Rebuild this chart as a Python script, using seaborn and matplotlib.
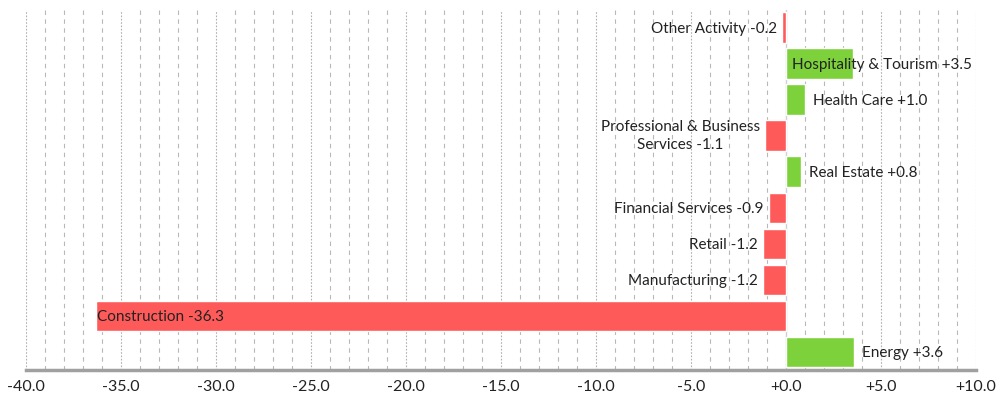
import matplotlib
matplotlib.use('Agg')
import matplotlib.pyplot as plt
import seaborn as sns
import numpy as np
from matplotlib.ticker import MultipleLocator, FuncFormatter

# data, top to bottom
sectors = ['Other Activity', 'Hospitality & Tourism', 'Health Care',
           'Professional & Business\nServices', 'Real Estate', 'Financial Services',
           'Retail', 'Manufacturing', 'Construction', 'Energy']
change = [-0.2, 3.5, 1.0, -1.1, 0.8, -0.9, -1.2, -1.2, -36.3, 3.6]

red = '#ff5a5a'
green = '#7dd13b'
bar_colors = [green if v > 0 else red for v in change]

sns.set_style('white')
plt.rcParams['font.family'] = ['Lato', 'DejaVu Sans']

fig = plt.figure(figsize=(9.98, 4), dpi=100)
ax = fig.add_axes([0.026, 0.075, 0.952, 0.901])

sns.barplot(x=change, y=sectors, hue=sectors, palette=bar_colors,
            orient='h', width=0.85, legend=False, saturation=1, ax=ax)

ax.set_xlim(-40, 10)
ax.set_ylim(9.5, -0.5)

# grid: dashed every 1, dotted every 5
ax.xaxis.set_major_locator(MultipleLocator(5))
ax.xaxis.set_minor_locator(MultipleLocator(1))
ax.xaxis.set_major_formatter(FuncFormatter(lambda v, p: '{:+.1f}'.format(v) if v != 0 else '+0.0'))
ax.grid(False)
for v in np.arange(-40, 11, 1):
    if v == 0:
        continue
    if v % 5 == 0:
        ax.axvline(v, color='#b0b0b0', lw=0.8, ls=(0, (1.5, 1.5)), zorder=0)
    else:
        ax.axvline(v, color='#b8b8b8', lw=0.8, ls=(0, (4, 4)), zorder=0)
ax.axvline(0, color='#cfcfcf', lw=1, zorder=0.5)

ax.set_yticks([])
ax.set_ylabel('')
ax.tick_params(axis='x', which='both', length=0, labelsize=11.5, colors='#222222', pad=7)
for s in ['left', 'right', 'top']:
    ax.spines[s].set_visible(False)
ax.spines['bottom'].set_color('#a0a0a0')
ax.spines['bottom'].set_linewidth(2.5)

# value labels
fig.canvas.draw()
renderer = fig.canvas.get_renderer()
to_px = ax.transData
left_px = to_px.transform((-40, 0))[0]
right_px = to_px.transform((10, 0))[0]
for i, (name, v) in enumerate(zip(sectors, change)):
    label = f'{name} {v:+.1f}'
    va = 'center' if '\n' in name else 'center_baseline'
    if v > 0:
        t = ax.text(v, i, label, ha='left', va=va, fontsize=11, color='#222222',
                    multialignment='center', linespacing=1.35)
        bb = t.get_window_extent(renderer)
        x0 = to_px.transform((v, i))[0] + 8
        if x0 + bb.width > right_px - 4:
            x0 = right_px - 4 - bb.width
        t.set_x(to_px.inverted().transform((x0, 0))[0])
    else:
        t = ax.text(v, i, label, ha='right', va=va, fontsize=11, color='#222222',
                    multialignment='center', linespacing=1.35)
        bb = t.get_window_extent(renderer)
        x1 = to_px.transform((v, i))[0] - 5
        if x1 - bb.width < left_px:
            t.set_ha('left')
            t.set_x(v + 0.05)
        else:
            t.set_x(to_px.inverted().transform((x1, 0))[0])

fig.savefig('out.png', dpi=100)
